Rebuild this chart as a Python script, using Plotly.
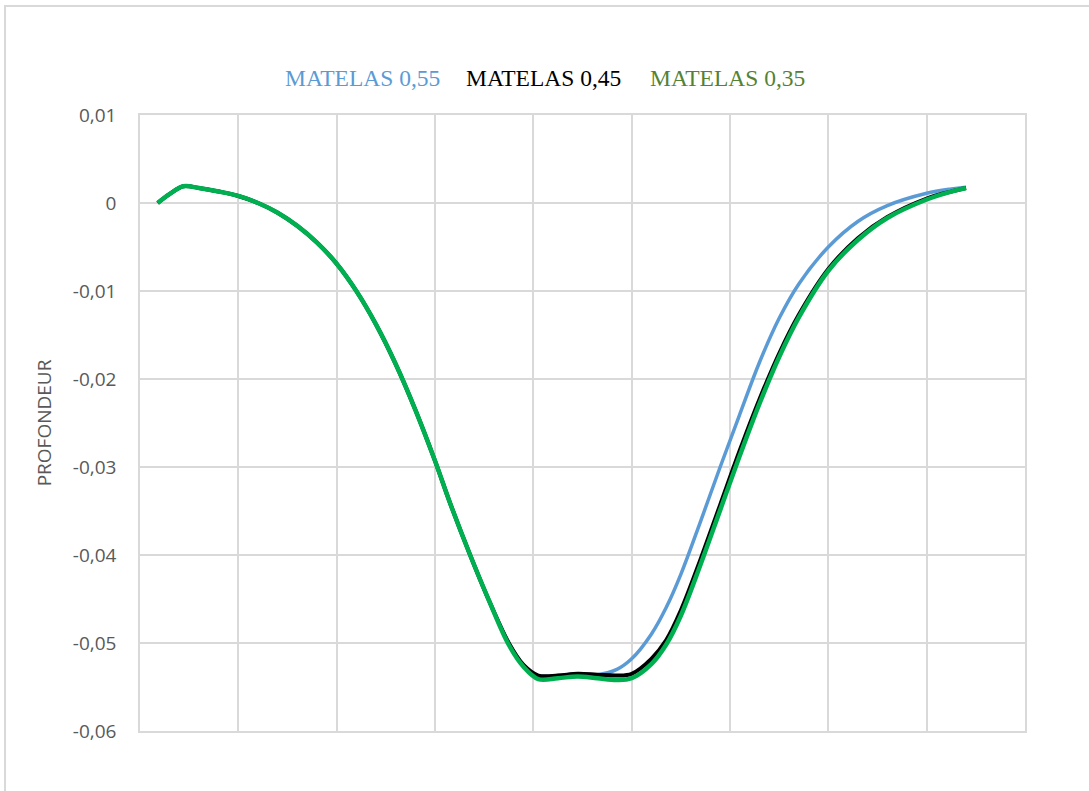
import plotly.graph_objects as go

# Position along the mattress (arbitrary units, grid every 10)
position = [1.8, 3, 4.4, 6, 8, 10, 12, 14, 16, 18, 20, 22, 24, 26, 28, 30,
            31.5, 33.5, 35.5, 37.5, 39, 40.5, 42.5, 44.5, 46.5, 48.5, 50,
            52, 53.5, 55, 57, 59, 61, 63, 65, 67, 70, 73, 76, 80, 82.5, 84]

# Depth profiles for each mattress
matelas_055 = [0.0, 0.001, 0.0019, 0.0017, 0.0013, 0.0008, 0.0, -0.0011,
               -0.0026, -0.0045, -0.0069, -0.0100, -0.0138, -0.0183, -0.0235,
               -0.0293, -0.0340, -0.0398, -0.0452, -0.0500, -0.0525, -0.0537,
               -0.0537, -0.0535, -0.0536, -0.0530, -0.0518, -0.0490, -0.0460,
               -0.0422, -0.0362, -0.0300, -0.0240, -0.0181, -0.0131, -0.0092,
               -0.0050, -0.0021, -0.0003, 0.0011, 0.0016, 0.0018]

matelas_045 = [0.0, 0.001, 0.0019, 0.0017, 0.0013, 0.0008, 0.0, -0.0011,
               -0.0026, -0.0045, -0.0069, -0.0100, -0.0138, -0.0183, -0.0235,
               -0.0293, -0.0340, -0.0398, -0.0452, -0.0500, -0.0525, -0.0537,
               -0.0537, -0.0535, -0.0536, -0.0537, -0.0535, -0.0518, -0.0497,
               -0.0463, -0.0405, -0.0343, -0.0281, -0.0223, -0.0171, -0.0127,
               -0.0075, -0.0040, -0.0016, 0.0005, 0.0013, 0.0017]

matelas_035 = [0.0, 0.001, 0.0019, 0.0017, 0.0013, 0.0008, 0.0, -0.0011,
               -0.0026, -0.0045, -0.0069, -0.0100, -0.0138, -0.0183, -0.0235,
               -0.0293, -0.0340, -0.0398, -0.0452, -0.0502, -0.0527, -0.0541,
               -0.0540, -0.0538, -0.0540, -0.0542, -0.0540, -0.0524, -0.0502,
               -0.0469, -0.0411, -0.0349, -0.0287, -0.0228, -0.0175, -0.0130,
               -0.0077, -0.0042, -0.0017, 0.0004, 0.0013, 0.0017]

y_ticks = [0.01, 0.0, -0.01, -0.02, -0.03, -0.04, -0.05, -0.06]
y_tick_text = ["0,01", "0", "-0,01", "-0,02", "-0,03", "-0,04", "-0,05", "-0,06"]

series = [
    ("MATELAS 0,55", matelas_055, "#5B9BD5", 3.5, "#5B9BD5"),
    ("MATELAS 0,45", matelas_045, "#000000", 4, "#000000"),
    ("MATELAS 0,35", matelas_035, "#00B050", 4.5, "#548235"),
]

fig = go.Figure()
for name, values, color, width, _ in series:
    fig.add_trace(go.Scatter(
        x=position, y=values, mode="lines", name=name,
        line=dict(color=color, width=width, shape="spline", smoothing=1),
        showlegend=False,
    ))

# Text-only legend across the top
legend_x = [362, 543, 727]
for (name, _, _, _, text_color), px in zip(series, legend_x):
    fig.add_annotation(
        x=(px - 140) / 885, y=1 + (115 - 78) / 616, xref="paper", yref="paper",
        text=name, showarrow=False, xanchor="center", yanchor="middle",
        font=dict(family="Liberation Serif", size=23.5, color=text_color),
    )

# Chart area frame
fig.add_shape(
    type="rect", xref="paper", yref="paper",
    x0=(5 - 140) / 885, x1=(1100 - 140) / 885,
    y0=-(800 - 731) / 616, y1=1 + (115 - 6) / 616,
    line=dict(color="#D9D9D9", width=2), fillcolor="rgba(0,0,0,0)", layer="below",
)

fig.update_layout(
    width=1089, height=791,
    margin=dict(l=140, r=64, t=115, b=60, autoexpand=False),
    paper_bgcolor="white", plot_bgcolor="white",
    font=dict(family="Open Sans", color="#595959"),
)
fig.update_xaxes(
    range=[0, 90], dtick=10, tick0=0, showticklabels=False,
    showgrid=True, gridcolor="#D9D9D9", gridwidth=1.5,
    showline=True, linecolor="#D9D9D9", linewidth=1.5, mirror=True,
    zeroline=False, ticks="",
)
fig.update_yaxes(
    range=[-0.06, 0.01], tickvals=y_ticks, ticktext=y_tick_text,
    showgrid=True, gridcolor="#D9D9D9", gridwidth=1.5,
    showline=True, linecolor="#D9D9D9", linewidth=1.5, mirror=True,
    zeroline=False, ticks="", ticklabelstandoff=18,
    tickfont=dict(family="Open Sans", size=19, color="#595959"),
    title=dict(text="PROFONDEUR", standoff=16,
               font=dict(family="Open Sans", size=19, color="#595959")),
)

fig.write_html("out.html")
